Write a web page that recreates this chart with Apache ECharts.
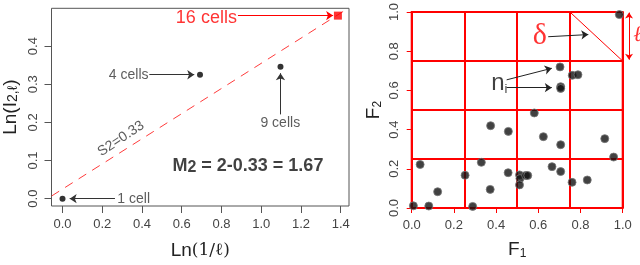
<!DOCTYPE html>
<html><head><meta charset="utf-8">
<script src="https://cdn.jsdelivr.net/npm/echarts@6/dist/echarts.min.js"></script>
<style>html,body{margin:0;padding:0;background:#fff}#c{width:640px;height:265px}</style>
</head><body><div id="c"></div>
<script>
// ---- left panel data ----
const xTicksL = [0, 0.2, 0.4, 0.6, 0.8, 1.0, 1.2, 1.4];
const yTicksL = [0, 0.1, 0.2, 0.3, 0.4];
const cellX = [0, 0.692, 1.097];
const cellY = [0, 0.325, 0.346];
const sixteenX = [1.386];
const sixteenY = [0.48];
const fitX = [-0.055, 1.44];
const fitY = [0.007, 0.500];
const annNames = ['16 cells', '4 cells', '9 cells', '1 cell'];
const annX = [0.724, 0.333, 1.096, 0.358];
const annY = [0.4746, 0.3246, 0.199, 0.0];
// arrows: [x1, y1, x2, y2]
const arrowsL = [[0.883, 0.48, 1.362, 0.48], [0.437, 0.325, 0.663, 0.325], [1.097, 0.221, 1.097, 0.329], [0.264, 0.0, 0.036, 0.0]];
// ---- right panel data ----
const tickR = [0, 0.2, 0.4, 0.6, 0.8, 1.0];
const f1 = [0.984, 0.703, 0.761, 0.788, 0.706, 0.706, 0.581, 0.374, 0.458, 0.624, 0.706, 0.915, 0.957, 0.040, 0.330, 0.253, 0.457, 0.511, 0.513, 0.511, 0.540, 0.550, 0.665, 0.706, 0.760, 0.832, 0.008, 0.081, 0.123, 0.289, 0.372];
const f2 = [0.987, 0.720, 0.677, 0.680, 0.619, 0.610, 0.485, 0.420, 0.391, 0.364, 0.323, 0.354, 0.260, 0.222, 0.233, 0.167, 0.180, 0.169, 0.150, 0.118, 0.166, 0.166, 0.211, 0.186, 0.131, 0.143, 0.011, 0.010, 0.083, 0.008, 0.095];
const diagX = [0.75, 1.0];
const diagY = [1.0, 0.75];
const arrowsR = [[0.450, 0.654, 0.664, 0.713], [0.450, 0.614, 0.664, 0.614], [0.647, 0.874, 0.837, 0.885]];
const ellArrow = [1.03, 0.997, 1.03, 0.757];

const FONT = 'Liberation Sans, Arial, sans-serif';
const chart = echarts.init(document.getElementById('c'), null, {renderer: 'canvas'});

function ml(arr, color, sym) {
  return arr.map(a => [
    {coord: [a[0], a[1]], symbol: sym[0], lineStyle: {color: color, width: 1, type: 'solid'}},
    {coord: [a[2], a[3]], symbol: sym[1]}
  ]);
}

const option = {
  animation: false,
  backgroundColor: '#fff',
  textStyle: {fontFamily: FONT},
  grid: [
    {left: 47.7, top: 8.3, width: 301.3, height: 211.7, show: true, borderColor: '#555', borderWidth: 1, backgroundColor: 'transparent', containLabel: false},
    {left: 411.7, top: 10, width: 211, height: 211.7, show: true, borderColor: '#ff0000', borderWidth: 2, backgroundColor: 'transparent', containLabel: false}
  ],
  xAxis: [
    {gridIndex: 0, type: 'value', min: -0.0554, max: 1.4418,
     axisLine: {show: false, onZero: false},
     axisTick: {show: true, customValues: xTicksL, length: 7, lineStyle: {color: '#555'}},
     axisLabel: {customValues: xTicksL, formatter: v => v.toFixed(1), margin: 12, fontSize: 13, color: '#444', fontFamily: FONT},
     splitLine: {show: false},
     name: '{a|Ln}{b|(1/ℓ)}', nameLocation: 'middle', nameGap: 35,
     nameTextStyle: {rich: {a: {fontSize: 19, color: '#222', fontFamily: FONT}, b: {fontSize: 17, color: '#222', fontFamily: 'DejaVu Serif, serif'}}}},
    {gridIndex: 1, type: 'value', min: 0, max: 1, interval: 0.2,
     axisLine: {show: false, onZero: false},
     axisTick: {show: true, length: 5, lineStyle: {color: '#ff0000'}},
     axisLabel: {formatter: v => v.toFixed(1), margin: 11, fontSize: 13, color: '#444', fontFamily: FONT},
     splitLine: {show: false},
     name: '{a|F}{b|1}', nameLocation: 'middle', nameGap: 32,
     nameTextStyle: {rich: {a: {fontSize: 19, color: '#222'}, b: {fontSize: 12, color: '#222', padding: [8, 0, 0, 0]}}}},
    {gridIndex: 1, type: 'value', min: 0, max: 1, interval: 0.25,
     axisLine: {show: false, onZero: false}, axisTick: {show: false}, axisLabel: {show: false},
     splitLine: {show: true, lineStyle: {color: '#ff0000', width: 2}}}
  ],
  yAxis: [
    {gridIndex: 0, type: 'value', min: -0.0192, max: 0.4992,
     axisLine: {show: false, onZero: false},
     axisTick: {show: true, customValues: yTicksL, length: 7, lineStyle: {color: '#555'}},
     axisLabel: {customValues: yTicksL, formatter: v => v.toFixed(1), rotate: 90, margin: 12, fontSize: 13, color: '#444', fontFamily: FONT},
     splitLine: {show: false},
     name: '{a|Ln(I}{b|2,ℓ}{a|)}', nameLocation: 'middle', nameGap: 31,
     nameTextStyle: {rich: {a: {fontSize: 19, color: '#222'}, b: {fontSize: 14, color: '#222', padding: [6, 0, 0, 0]}}}},
    {gridIndex: 1, type: 'value', min: 0, max: 1, interval: 0.2,
     axisLine: {show: false, onZero: false},
     axisTick: {show: true, length: 5, lineStyle: {color: '#ff0000'}},
     axisLabel: {formatter: v => v.toFixed(1), rotate: 90, margin: 11, fontSize: 13, color: '#444', fontFamily: FONT},
     splitLine: {show: false},
     name: '{a|F}{b|2}', nameLocation: 'middle', nameGap: 28,
     nameTextStyle: {rich: {a: {fontSize: 19, color: '#222'}, b: {fontSize: 12, color: '#222', padding: [8, 0, 0, 0]}}}},
    {gridIndex: 1, type: 'value', min: 0, max: 1, interval: 0.25,
     axisLine: {show: false, onZero: false}, axisTick: {show: false}, axisLabel: {show: false},
     splitLine: {show: true, lineStyle: {color: '#ff0000', width: 2}}}
  ],
  series: [
    // fitted dashed line
    {type: 'line', xAxisIndex: 0, yAxisIndex: 0, data: fitX.map((x, i) => [x, fitY[i]]),
     symbol: 'none', lineStyle: {color: '#ff3b3b', width: 1, type: [9, 7]}, z: 2, silent: true},
    // cells points
    {type: 'scatter', xAxisIndex: 0, yAxisIndex: 0, data: cellX.map((x, i) => [x, cellY[i]]),
     symbol: 'circle', symbolSize: 6, itemStyle: {color: '#000'}, z: 4, silent: true},
    // 16 cells square
    {type: 'scatter', xAxisIndex: 0, yAxisIndex: 0, data: sixteenX.map((x, i) => [x, sixteenY[i]]),
     symbol: 'rect', symbolSize: 8, itemStyle: {color: '#ff0000'}, z: 4, silent: true},
    // arrows left
    {type: 'scatter', xAxisIndex: 0, yAxisIndex: 0, data: [], silent: true,
     markLine: {silent: true, animation: false, symbolSize: 7, label: {show: false},
       data: ml(arrowsL.slice(0, 1), '#ff0000', ['none', 'arrow']).concat(ml(arrowsL.slice(1), '#333', ['none', 'arrow']))}},
    // annotation labels left
    {type: 'scatter', xAxisIndex: 0, yAxisIndex: 0, silent: true, z: 5,
     symbolSize: 0.1, itemStyle: {color: 'transparent'},
     data: annNames.map((n, i) => ({value: [annX[i], annY[i]], name: n,
       label: {show: true, position: 'inside', formatter: n, fontSize: i === 0 ? 18 : 14, color: i === 0 ? '#ff0000' : '#333', fontFamily: FONT}}))
       .concat([
         {value: [0.294, 0.157], label: {show: true, position: 'inside', formatter: 'S2=0.33', rotate: 33.6, fontSize: 14, color: '#333', fontFamily: FONT}},
         {value: [0.933, 0.086], label: {show: true, position: 'inside', formatter: '{a|M}{b|2}{a| = 2-0.33 = 1.67}',
           rich: {a: {fontSize: 18, fontWeight: 'bold', color: '#111', fontFamily: FONT}, b: {fontSize: 16, fontWeight: 'bold', color: '#111', fontFamily: FONT, padding: [4, 0, 0, 0]}}}}
       ])},
    // right: diagonal
    {type: 'line', xAxisIndex: 1, yAxisIndex: 1, data: diagX.map((x, i) => [x, diagY[i]]),
     symbol: 'none', lineStyle: {color: '#ff0000', width: 1}, z: 3, silent: true},
    // right points
    {type: 'scatter', xAxisIndex: 1, yAxisIndex: 1, data: f1.map((x, i) => [x, f2[i]]),
     symbol: 'circle', symbolSize: 8, itemStyle: {color: '#111', borderColor: '#777', borderWidth: 1}, z: 4, silent: true},
    // right arrows
    {type: 'scatter', xAxisIndex: 1, yAxisIndex: 1, data: [], silent: true,
     markLine: {silent: true, animation: false, symbolSize: 7, label: {show: false},
       data: ml(arrowsR, '#222', ['none', 'arrow'])}},
    // l double arrow (outside the plot box)
    {type: 'lines', coordinateSystem: 'cartesian2d', xAxisIndex: 1, yAxisIndex: 1, clip: false, silent: true, z: 5,
     symbol: ['arrow', 'arrow'], symbolSize: 6,
     lineStyle: {color: '#ff0000', width: 1, opacity: 1},
     data: [{coords: [[ellArrow[0], ellArrow[1]], [ellArrow[2], ellArrow[3]]]}]},
    // right labels
    {type: 'scatter', xAxisIndex: 1, yAxisIndex: 1, silent: true, z: 5, clip: false,
     symbolSize: 0.1, itemStyle: {color: 'transparent'},
     data: [
       {value: [0.607, 0.878], label: {show: true, position: 'inside', formatter: 'δ', fontSize: 30, color: '#ff0000', fontFamily: 'Liberation Serif, DejaVu Serif, serif'}},
       {value: [0.415, 0.636], label: {show: true, position: 'inside', formatter: '{a|n}{b|i}',
         rich: {a: {fontSize: 24, color: '#111', fontFamily: FONT}, b: {fontSize: 13, color: '#111', fontFamily: FONT, padding: [12, 0, 0, 0]}}}},
       {value: [1.072, 0.882], label: {show: true, position: 'inside', formatter: 'ℓ', fontSize: 22, fontStyle: 'italic', color: '#ff0000', fontFamily: 'DejaVu Serif, serif'}}
     ]}
  ]
};
chart.setOption(option);
</script>
</body></html>
